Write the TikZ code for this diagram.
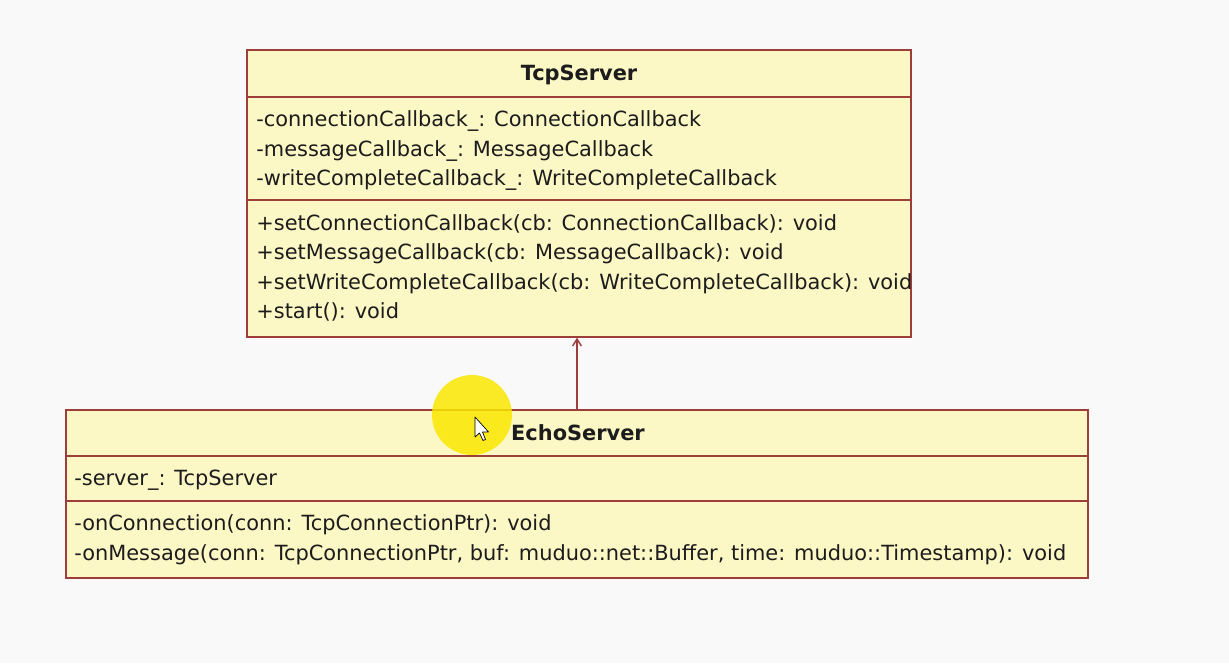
\documentclass[tikz,border=0pt]{standalone}
\usepackage{fontspec}
\setmainfont{DejaVu Sans}
\usetikzlibrary{arrows.meta, positioning}
\definecolor{boxfill}{RGB}{252,248,198}
\definecolor{boxline}{RGB}{158,62,58}
\definecolor{bgcol}{RGB}{249,249,249}
\definecolor{textcol}{RGB}{28,28,28}
\definecolor{spot}{RGB}{250,232,0}
\tikzset{>={Straight Barb[length=4pt,width=5pt]}}
\tikzset{classbox/.style={draw=boxline, fill=boxfill, line width=0.8pt, inner sep=0pt},
  member/.style={anchor=west, inner sep=0pt, text=textcol, font=\fontsize{11.9pt}{14pt}\selectfont, text height=0.75em, text depth=0.2em},
  classname/.style={member, anchor=center, font=\fontsize{11.9pt}{14pt}\selectfont\bfseries}}

\begin{document}
\begin{tikzpicture}[x=0.02cm, y=-0.02cm]
	\fill[bgcol] (0,0) rectangle (1229,663);
	\useasboundingbox (0,0) rectangle (1229,663);

	% TcpServer
	\node[classbox, minimum width=13.28cm, minimum height=5.74cm] (tcp) at (579,193.5) {};
	\draw[boxline, line width=0.8pt] (tcp.west |- 0,97) -- (tcp.east |- 0,97);
	\draw[boxline, line width=0.8pt] (tcp.west |- 0,200) -- (tcp.east |- 0,200);
	\node[classname] (tcpname) at (579,76) {TcpServer};
	\node[member] (ta1) at (256,122) {-connectionCallback\_: ConnectionCallback};
	\node[member] (ta2) at (256,152) {-messageCallback\_: MessageCallback};
	\node[member] (ta3) at (256,181) {-writeCompleteCallback\_: WriteCompleteCallback};
	\node[member] (tm1) at (256,226) {+setConnectionCallback(cb: ConnectionCallback): void};
	\node[member] (tm2) at (256,255) {+setMessageCallback(cb: MessageCallback): void};
	\node[member] (tm3) at (256,285) {+setWriteCompleteCallback(cb: WriteCompleteCallback): void};
	\node[member] (tm4) at (256,314) {+start(): void};

	% EchoServer
	\node[classbox, minimum width=20.44cm, minimum height=3.36cm] (echo) at (577,494) {};
	\draw[boxline, line width=0.8pt] (echo.west |- 0,456) -- (echo.east |- 0,456);
	\draw[boxline, line width=0.8pt] (echo.west |- 0,501) -- (echo.east |- 0,501);
	\node[classname] (echoname) at (578,436) {EchoServer};
	\node[member] (ea1) at (74,481) {-server\_: TcpServer};
	\node[member] (em1) at (74,526) {-onConnection(conn: TcpConnectionPtr): void};
	\node[member] (em2) at (74,556) {-onMessage(conn: TcpConnectionPtr, buf: muduo::net::Buffer, time: muduo::Timestamp): void};

	% dependency
	\draw[->, boxline, line width=0.8pt] (echo.north) -- (echo.north |- tcp.south);

	% pointer highlight
	\fill[spot, opacity=0.85] (472,415) circle[radius=0.8cm];
	\draw[black, fill=white, line width=0.4pt, line join=round] (475,417) -- (475,437) -- (479.5,433) -- (483,440.5) -- (485.5,439.5) -- (482.5,432) -- (488.5,432) -- cycle;
\end{tikzpicture}
\end{document}
